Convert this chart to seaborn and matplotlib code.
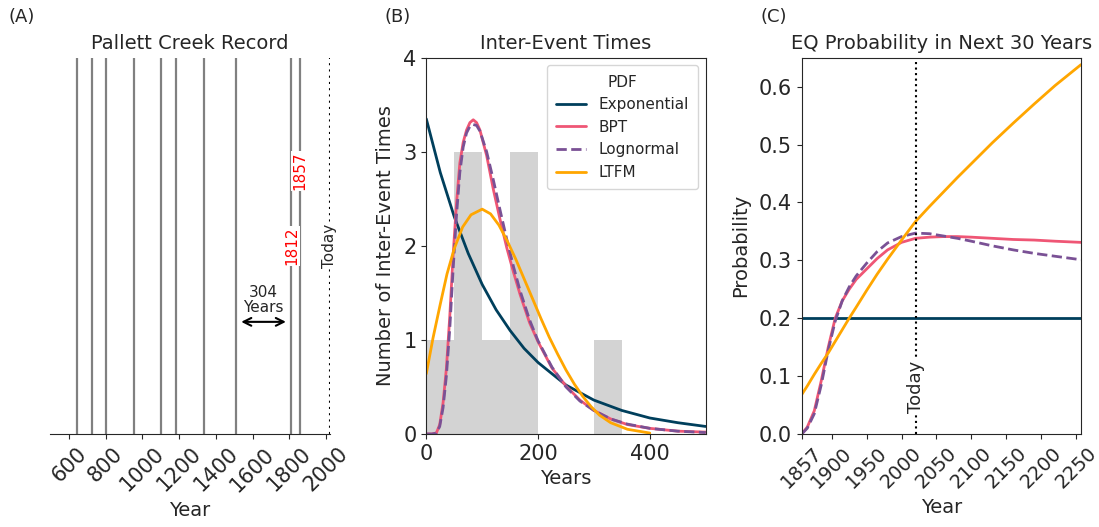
import numpy as np
import matplotlib
matplotlib.use("Agg")
import matplotlib.pyplot as plt
import seaborn as sns

sns.set_style("ticks")
plt.rcParams['font.family'] = ['DejaVu Sans']
plt.rcParams['font.size'] = 14
plt.rcParams['xtick.labelsize'] = 15
plt.rcParams['ytick.labelsize'] = 15

# (A) Pallett Creek earthquake years
event_years = [644, 727, 803, 956, 1101, 1181, 1337, 1508, 1812, 1857]
today = 2021
red_years = [1812, 1857]
red_heights = [0.5, 0.7]

names = ["Exponential", "BPT", "Lognormal", "LTFM"]
colors = ["#003f5c", "#ef5675", "#7a5195", "#ffa600"]
styles = ["-", "-", "--", "-"]

# (B) fitted pdfs, scaled to counts
exp_t = [0, 25, 50, 75, 100, 125, 150, 175, 200, 250, 300, 350, 400, 450, 500]
exp_v = [3.35, 2.78, 2.31, 1.92, 1.59, 1.32, 1.10, 0.91, 0.76, 0.52, 0.36, 0.25, 0.17, 0.12, 0.08]

bpt_t = [0, 10, 18, 24, 30, 36, 42, 48, 54, 60, 66, 72, 78, 84, 90, 96, 108, 120, 132,
         144, 156, 168, 185, 200, 225, 250, 275, 300, 330, 360, 400, 450, 500]
bpt_v = [0, 0, 0.01, 0.10, 0.33, 0.70, 1.25, 1.90, 2.45, 2.88, 3.10, 3.23, 3.31, 3.34, 3.31,
         3.23, 2.96, 2.60, 2.28, 1.98, 1.72, 1.48, 1.18, 0.98, 0.70, 0.51, 0.36, 0.25, 0.16,
         0.10, 0.06, 0.03, 0.02]

logn_t = [0, 10, 18, 24, 30, 36, 42, 48, 54, 60, 66, 72, 78, 84, 90, 96, 108, 120, 132,
          144, 156, 168, 185, 200, 225, 250, 275, 300, 330, 360, 400, 450, 500]
logn_v = [0, 0, 0.01, 0.08, 0.28, 0.62, 1.12, 1.75, 2.32, 2.78, 3.05, 3.20, 3.27, 3.29, 3.28,
          3.22, 3.00, 2.70, 2.38, 2.07, 1.78, 1.52, 1.21, 0.99, 0.71, 0.50, 0.35, 0.25, 0.16,
          0.105, 0.06, 0.03, 0.015]

ltfm_t = [0, 12, 25, 37, 50, 65, 80, 100, 115, 130, 145, 160, 175, 190, 205, 220, 235, 250,
          265, 280, 295, 310, 330, 360, 400]
ltfm_v = [0.64, 1.02, 1.38, 1.70, 1.97, 2.20, 2.33, 2.39, 2.34, 2.22, 2.05, 1.86, 1.65, 1.44,
          1.23, 1.03, 0.85, 0.68, 0.53, 0.40, 0.29, 0.20, 0.12, 0.05, 0.01]

# (C) probability of an event in the next 30 years
yrs = [1857, 1865, 1875, 1885, 1895, 1905, 1915, 1925, 1935, 1950, 1965, 1980, 2000, 2020,
       2040, 2060, 2080, 2100, 2130, 2160, 2190, 2220, 2257]
p_bpt = [0.000, 0.012, 0.040, 0.092, 0.150, 0.200, 0.230, 0.250, 0.267, 0.285, 0.303, 0.318,
         0.331, 0.338, 0.340, 0.341, 0.341, 0.340, 0.338, 0.336, 0.335, 0.333, 0.331]
p_logn = [0.000, 0.010, 0.035, 0.085, 0.145, 0.195, 0.230, 0.254, 0.273, 0.295, 0.315, 0.330,
          0.341, 0.347, 0.346, 0.342, 0.338, 0.333, 0.325, 0.318, 0.312, 0.307, 0.301]
p_ltfm = [0.068, 0.083, 0.103, 0.122, 0.140, 0.160, 0.180, 0.200, 0.219, 0.248, 0.276, 0.302,
          0.335, 0.367, 0.393, 0.418, 0.443, 0.467, 0.503, 0.537, 0.570, 0.602, 0.638]
exp_yrs = [1857, 2257]
p_exp = [0.2, 0.2]

fig = plt.figure(figsize=(10.99, 5.27), dpi=100)
ax1 = fig.add_axes([0.0455, 0.1765, 0.2548, 0.714])
ax2 = fig.add_axes([0.3879, 0.1765, 0.2542, 0.714])
ax3 = fig.add_axes([0.7295, 0.1765, 0.2541, 0.714])

# ---- (A)
for y in event_years:
    ax1.axvline(y, color="grey", lw=1.6)
ax1.axvline(today, color="k", ls=(0, (1, 2)), lw=1.5)
for y, h in zip(red_years, red_heights):
    ax1.text(y, h, str(y), color="red", rotation=90, ha="center", va="center", fontsize=11,
             bbox=dict(facecolor="white", edgecolor="none", pad=0.5))
ax1.text(today, 0.5, "Today", rotation=90, ha="center", va="center", fontsize=11,
         bbox=dict(facecolor="white", edgecolor="none", pad=0.5))
ax1.annotate("", xy=(event_years[-2], 0.298), xytext=(event_years[-3], 0.298),
             arrowprops=dict(arrowstyle="<->", color="k", lw=1.5, shrinkA=4, shrinkB=4))
gap = event_years[-2] - event_years[-3]
ax1.text((event_years[-2] + event_years[-3]) / 2, 0.355, f"{gap}\nYears", ha="center",
         va="center", fontsize=11, linespacing=1.0)
ax1.set_xlim(497, 2022)
ax1.set_ylim(0, 1)
ax1.set_yticks([])
ax1.set_xticks(range(600, 2001, 200))
ax1.tick_params(axis="x", labelrotation=45)
for s in ["left", "top", "right"]:
    ax1.spines[s].set_visible(False)
ax1.set_xlabel("Year")
ax1.set_title("Pallett Creek Record", fontsize=14)

# ---- (B)
sns.histplot(x=np.diff(event_years), binwidth=50, binrange=(0, 350), color="lightgray",
             alpha=1, linewidth=0, ax=ax2)
curves = [(exp_t, exp_v), (bpt_t, bpt_v), (logn_t, logn_v), (ltfm_t, ltfm_v)]
for (t, v), n, c, s in zip(curves, names, colors, styles):
    sns.lineplot(x=t, y=v, color=c, ls=s, lw=2, label=n, ax=ax2)
ax2.set_xlim(0, 500)
ax2.set_ylim(0, 4)
ax2.set_xticks([0, 200, 400])
ax2.set_yticks([0, 1, 2, 3, 4])
ax2.set_xlabel("Years")
ax2.set_ylabel("Number of Inter-Event Times", labelpad=6)
ax2.set_title("Inter-Event Times", fontsize=14)
ax2.legend(title="PDF", loc="upper right", fontsize=11, title_fontsize=11, borderpad=0.6)

# ---- (C)
sns.lineplot(x=exp_yrs, y=p_exp, color=colors[0], lw=2, ax=ax3)
for p, c, s in zip([p_bpt, p_logn, p_ltfm], colors[1:], styles[1:]):
    sns.lineplot(x=yrs, y=p, color=c, ls=s, lw=2, ax=ax3)
ax3.axvline(today, color="k", ls=":", lw=1.5)
ax3.text(today, 0.082, "Today", rotation=90, ha="center", va="center", fontsize=13,
         bbox=dict(facecolor="white", edgecolor="none", pad=0.5))
ax3.set_xlim(1857, 2257)
ax3.set_ylim(0, 0.65)
ax3.set_xticks([1857, 1900, 1950, 2000, 2050, 2100, 2150, 2200, 2250])
ax3.set_yticks([0.0, 0.1, 0.2, 0.3, 0.4, 0.5, 0.6])
ax3.tick_params(axis="x", labelrotation=45, labelsize=14)
ax3.set_xlabel("Year")
ax3.set_ylabel("Probability", labelpad=6)
ax3.set_title("EQ Probability in Next 30 Years", fontsize=14)

for lab, x in zip(["(A)", "(B)", "(C)"], [0.008, 0.35, 0.692]):
    fig.text(x, 0.967, lab, fontsize=13, va="center")

fig.savefig("out.png", dpi=100)
